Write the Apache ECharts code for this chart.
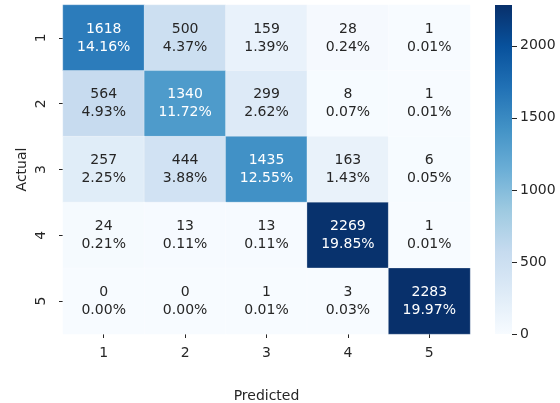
<!DOCTYPE html>
<html>
<head>
<meta charset="utf-8">
<script src="https://cdn.jsdelivr.net/npm/echarts@6/dist/echarts.min.js"></script>
<style>
  html, body { margin: 0; padding: 0; background: #fff; }
  #chart { width: 560px; height: 403px; }
</style>
</head>
<body>
<div id="chart"></div>
<script>
// confusion matrix, rows = actual, cols = predicted
const predictedLabels = ["1", "2", "3", "4", "5"];
const actualLabels = ["1", "2", "3", "4", "5"];
const counts = [
  [1618, 500, 159, 28, 1],
  [564, 1340, 299, 8, 1],
  [257, 444, 1435, 163, 6],
  [24, 13, 13, 2269, 1],
  [0, 0, 1, 3, 2283]
];
const percents = [
  ["14.16%", "4.37%", "1.39%", "0.24%", "0.01%"],
  ["4.93%", "11.72%", "2.62%", "0.07%", "0.01%"],
  ["2.25%", "3.88%", "12.55%", "1.43%", "0.05%"],
  ["0.21%", "0.11%", "0.11%", "19.85%", "0.01%"],
  ["0.00%", "0.00%", "0.01%", "0.03%", "19.97%"]
];
const colorbarTicks = [0, 500, 1000, 1500, 2000];

const blues = ["#f7fbff", "#deebf7", "#c6dbef", "#9ecae1", "#6baed6",
               "#4292c6", "#2171b5", "#08519c", "#08306b"];
const font = "DejaVu Sans";
const textDark = "#262626";

let cells = [];
counts.forEach((row, r) => {
  row.forEach((v, c) => {
    cells.push({
      value: [c, r, v],
      label: { color: v > 1000 ? "#ffffff" : textDark }
    });
  });
});
const vmax = Math.max(...counts.flat());

// gradient for the colorbar, bottom (0) -> top (vmax)
const barGradient = new echarts.graphic.LinearGradient(0, 1, 0, 0,
  blues.map((c, i) => ({ offset: i / (blues.length - 1), color: c })));

const chart = echarts.init(document.getElementById("chart"), null, { renderer: "canvas" });
const option = {
  animation: false,
  textStyle: { fontFamily: font },
  grid: [
    { left: 63, top: 5, width: 407, height: 329, outerBoundsMode: "none" },
    { left: 495, top: 5, width: 17, height: 329, outerBoundsMode: "none" }
  ],
  xAxis: [
    {
      type: "category",
      gridIndex: 0,
      data: predictedLabels,
      name: "Predicted",
      nameLocation: "middle",
      nameGap: 55,
      nameMoveOverlap: false,
      nameTextStyle: { fontFamily: font, fontSize: 14, color: textDark },
      axisLine: { show: false },
      axisTick: { show: true, alignWithLabel: true, length: 4, lineStyle: { color: textDark } },
      axisLabel: { fontFamily: font, fontSize: 14, color: textDark, margin: 12 },
      splitLine: { show: false }
    },
    {
      type: "category",
      gridIndex: 1,
      data: ["cb"],
      show: false
    }
  ],
  yAxis: [
    {
      type: "category",
      gridIndex: 0,
      data: actualLabels,
      inverse: true,
      name: "Actual",
      nameLocation: "middle",
      nameGap: 34,
      nameMoveOverlap: false,
      nameTextStyle: { fontFamily: font, fontSize: 14, color: textDark },
      axisLine: { show: false },
      axisTick: { show: true, alignWithLabel: true, length: 4, lineStyle: { color: textDark } },
      axisLabel: { fontFamily: font, fontSize: 14, color: textDark, rotate: 90, margin: 15 },
      splitLine: { show: false }
    },
    {
      type: "value",
      gridIndex: 1,
      position: "right",
      min: 0,
      max: vmax,
      interval: 500,
      axisLine: { show: false },
      axisTick: { show: true, inside: false, length: 5, lineStyle: { color: textDark } },
      axisLabel: {
        fontFamily: font, fontSize: 14, color: textDark, margin: 8,
        showMaxLabel: false,
        formatter: v => (colorbarTicks.includes(v) ? String(v) : "")
      },
      splitLine: { show: false }
    }
  ],
  visualMap: {
    type: "continuous",
    show: false,
    seriesIndex: 0,
    min: 0,
    max: vmax,
    inRange: { color: blues }
  },
  series: [
    {
      type: "heatmap",
      xAxisIndex: 0,
      yAxisIndex: 0,
      data: cells,
      label: {
        show: true,
        fontFamily: font,
        fontSize: 14,
        lineHeight: 18,
        formatter: p => p.value[2] + "\n" + percents[p.value[1]][p.value[0]]
      },
      itemStyle: { borderWidth: 0.6, borderColor: "rgba(255,255,255,0.45)" },
      emphasis: { disabled: true }
    },
    {
      type: "bar",
      xAxisIndex: 1,
      yAxisIndex: 1,
      data: [vmax],
      barWidth: "100%",
      silent: true,
      itemStyle: { color: barGradient }
    }
  ]
};
chart.setOption(option);
</script>
</body>
</html>
